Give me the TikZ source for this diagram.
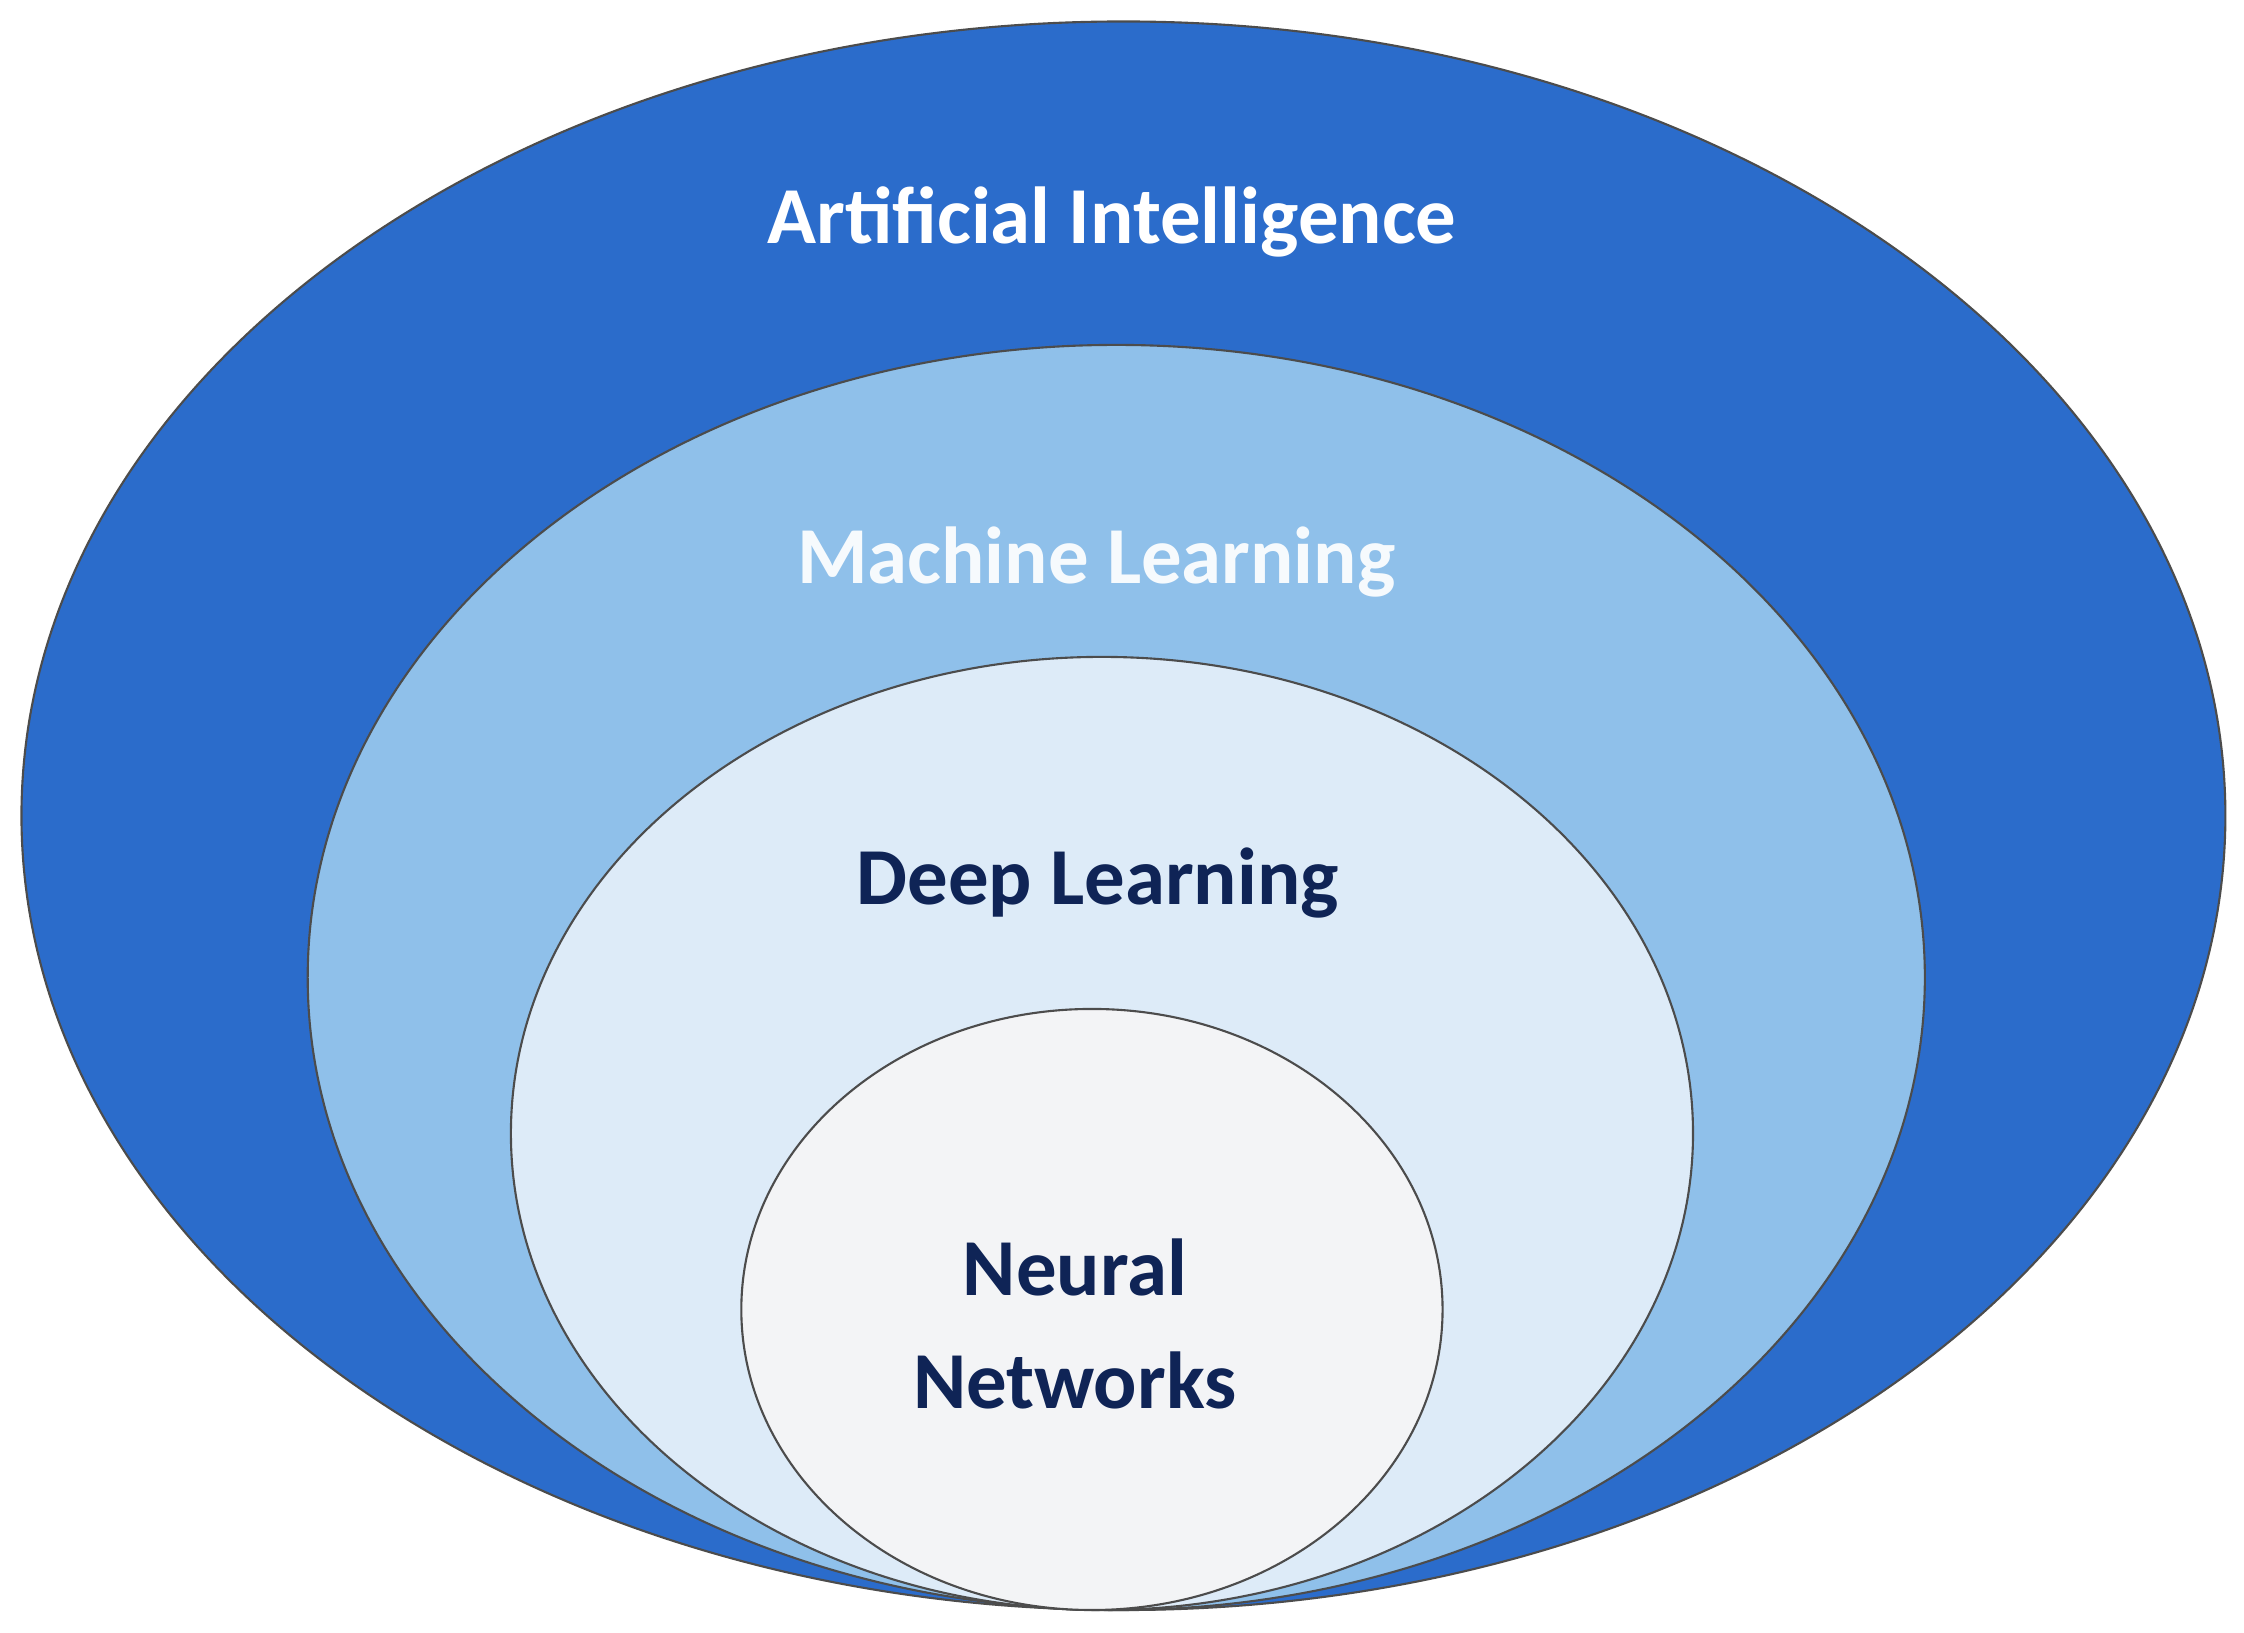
\documentclass[tikz,border=0pt]{standalone}
\usepackage{fontspec}
\setmainfont{Carlito}
\definecolor{ai}{HTML}{2B6CCB}
\definecolor{ml}{HTML}{8FC0EA}
\definecolor{dl}{HTML}{DDEBF8}
\definecolor{nn}{HTML}{F3F4F6}
\definecolor{navy}{HTML}{0F2456}
\begin{document}
\begin{tikzpicture}[x=0.01431cm,y=-0.01431cm,
  ring/.style={draw=black!70,line width=0.6pt},
  lab/.style={font=\fontsize{23}{28}\selectfont\bfseries,align=center}]
\useasboundingbox (0,0) rectangle (1568,1141);
\fill[white] (0,0) rectangle (1568,1141);
\filldraw[ring,fill=ai] (785,570) ellipse [x radius=770,y radius=555];
\filldraw[ring,fill=ml] (780,683) ellipse [x radius=565,y radius=442];
\filldraw[ring,fill=dl] (770,792) ellipse [x radius=413,y radius=333];
\filldraw[ring,fill=nn] (763,915) ellipse [x radius=245,y radius=210];
\node[lab,text=white] (t1) at (777,155) {Artificial Intelligence};
\node[lab,text=white!92!ml] (t2) at (766,393) {Machine Learning};
\node[lab,text=navy] (t3) at (767,617) {Deep Learning};
\node[lab,text=navy] (t4) at (751,925) {Neural\\[4pt]Networks};
\end{tikzpicture}
\end{document}
